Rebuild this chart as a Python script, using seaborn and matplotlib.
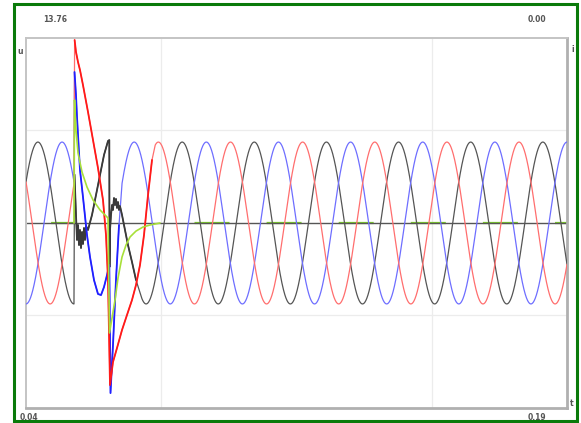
import numpy as np
import pandas as pd
import matplotlib
matplotlib.use("Agg")
import matplotlib.pyplot as plt
import seaborn as sns
from matplotlib.patches import Rectangle

# Axis range shown by the recorder
T_MIN, T_MAX = 0.04, 0.19
U_MAX = 13.76
I_LABEL = "0.00"

# Steady-state three-phase signal
FREQ = 50.0
AMPL = 6.02
PEAK_T = {"black": 0.0433, "blue": 0.0500, "red": 0.0567}
FAULT_T = 0.0533
REJOIN_T = {"black": 0.0716, "blue": 0.0666, "red": 0.0758}

# Transient part of each trace (time, value)
black_t = [0.05345, 0.05386, 0.05414, 0.05442, 0.05470, 0.05497, 0.05525, 0.05553,
           0.05580, 0.05608, 0.05636, 0.05664, 0.05719, 0.05830, 0.05941, 0.06052,
           0.06163, 0.06274, 0.06310, 0.06315, 0.06329, 0.06357, 0.06385, 0.06412,
           0.06440, 0.06468, 0.06495, 0.06523, 0.06551, 0.06579, 0.06606, 0.06662,
           0.06717, 0.06828, 0.06939, 0.07050]
black_v = [3.60, 0.60, -1.26, -0.15, -1.64, -0.52, -1.86, -0.67,
           -1.56, -0.37, -1.26, -0.22, -0.52, 0.60, 2.08, 3.57,
           5.06, 6.10, 6.17, -3.27, -0.52, 0.60, 1.34, 0.97,
           1.86, 1.34, 1.79, 1.12, 1.56, 0.97, 1.26, 0.60,
           -0.15, -1.64, -2.90, -4.24]

blue_t = [0.05345, 0.05386, 0.05414, 0.05497, 0.05580, 0.05691, 0.05775, 0.05885,
          0.05996, 0.06080, 0.06163, 0.06246, 0.06310, 0.06343, 0.06412, 0.06495,
          0.06579]
blue_v = [11.23, 9.52, 7.88, 3.94, 1.93, -0.89, -2.53, -4.24,
          -5.28, -5.36, -4.76, -3.87, -3.12, -12.65, -9.07, -4.24,
          -0.15]

red_t = [0.05348, 0.05386, 0.05442, 0.05497, 0.05580, 0.05719, 0.05858, 0.05996,
         0.06135, 0.06218, 0.06274, 0.06329, 0.06412, 0.06523, 0.06662, 0.06800,
         0.06939, 0.07050, 0.07161, 0.07272, 0.07383, 0.07494]
red_v = [13.61, 12.72, 11.97, 11.38, 10.26, 8.26, 6.17, 4.09,
         1.71, -0.89, -4.24, -12.05, -10.34, -9.30, -7.96, -6.84,
         -5.73, -4.61, -3.12, -0.89, 2.08, 4.69]

green_t = [0.05331, 0.05345, 0.05386, 0.05442, 0.05553, 0.05691, 0.05858, 0.06052,
           0.06274, 0.06315, 0.06385, 0.06468, 0.06551, 0.06662, 0.06773, 0.06884,
           0.07050, 0.07244, 0.07438, 0.07715]
green_v = [0.0, 9.15, 6.92, 5.21, 3.79, 2.68, 1.71, 0.97,
           0.37, -8.18, -7.07, -5.73, -4.09, -2.53, -1.64, -1.04,
           -0.60, -0.30, -0.15, 0.0]

COLORS = {"black": "#555555", "blue": "#6e6eff", "red": "#ff6e6e"}
STRONG = {"black": "#3a3a3a", "blue": "#2020ff", "red": "#ff1a1a"}
GREEN = "#7ccf2a"

W, H = 581, 423


def phase_frame(name, tt, vv):
    t = np.linspace(T_MIN, T_MAX, 2400)
    t = np.union1d(t, [FAULT_T, REJOIN_T[name]])
    keep = (t <= FAULT_T) | (t >= REJOIN_T[name])
    t = t[keep]
    v = AMPL * np.cos(2 * np.pi * FREQ * (t - PEAK_T[name]))
    df = pd.DataFrame({"t": np.concatenate([t, tt]), "v": np.concatenate([v, vv])})
    return df.sort_values("t", kind="stable").reset_index(drop=True)


sns.set_style("white")
fig = plt.figure(figsize=(W / 100, H / 100), dpi=100)
ax = fig.add_axes([26 / W, 1 - 408 / H, (567 - 26) / W, (408 - 38) / H])

# outer green frame
fig.patches.append(Rectangle((14 / W, 1 - 421 / H), 563 / W, 417 / H,
                             transform=fig.transFigure, fill=False,
                             edgecolor="#0a7a0a", linewidth=2.2))

ax.set_xlim(T_MIN, T_MAX)
ax.set_ylim(-U_MAX, U_MAX)
span = T_MAX - T_MIN
ax.set_xticks([T_MIN + span / 4, T_MIN + 3 * span / 4])
ax.set_yticks([-U_MAX / 2, U_MAX / 2])
ax.grid(True, color="#ececec", linewidth=0.9)
ax.tick_params(length=0, labelbottom=False, labelleft=False)
for side in ["top", "left"]:
    ax.spines[side].set_color("#c4c4c4")
    ax.spines[side].set_linewidth(1.4)
for side in ["right", "bottom"]:
    ax.spines[side].set_color("#b0b0b0")
    ax.spines[side].set_linewidth(2.0)

# green residual trace: dashed on zero outside the fault, solid during it
pre = pd.DataFrame({"t": [T_MIN, green_t[0]], "v": [0.0, 0.0]})
post = pd.DataFrame({"t": [green_t[-1], T_MAX], "v": [0.0, 0.0]})
tr = pd.DataFrame({"t": green_t, "v": green_v})
lw_g = 1.6
sns.lineplot(data=pre, x="t", y="v", color=GREEN, linewidth=lw_g, ax=ax,
             linestyle=(47 * 0.72 / lw_g, (35 * 0.72 / lw_g, 37.1 * 0.72 / lw_g)))
sns.lineplot(data=post, x="t", y="v", color=GREEN, linewidth=lw_g, ax=ax,
             linestyle=(37.6 * 0.72 / lw_g, (35 * 0.72 / lw_g, 37.1 * 0.72 / lw_g)))
ax.axhline(0, color="#555555", linewidth=1.0, zorder=2.5)

transients = {"black": (black_t, black_v), "blue": (blue_t, blue_v), "red": (red_t, red_v)}
for name in ["black", "blue", "red"]:
    tt, vv = transients[name]
    df = phase_frame(name, tt, vv)
    sns.lineplot(data=df, x="t", y="v", color=COLORS[name], linewidth=0.9,
                 sort=False, estimator=None, ax=ax, zorder=3)
for name in ["black", "blue", "red"]:
    tt, vv = transients[name]
    sns.lineplot(data=pd.DataFrame({"t": tt, "v": vv}), x="t", y="v",
                 color=STRONG[name], linewidth=1.3, sort=False, estimator=None,
                 ax=ax, zorder=4)
sns.lineplot(data=tr, x="t", y="v", color="#a8e03a", linewidth=1.2,
             sort=False, estimator=None, ax=ax, zorder=4)
ax.set_xlabel("")
ax.set_ylabel("")

# recorder labels
lab = dict(fontsize=5.5, color="#555555", fontweight="bold")
fig.text(55 / W, 1 - 20 / H, f"{U_MAX:.2f}", ha="center", va="center", **lab)
fig.text(537 / W, 1 - 20 / H, I_LABEL, ha="center", va="center", **lab)
fig.text(20 / W, 1 - 52 / H, "u", ha="center", va="center", **lab)
fig.text(573 / W, 1 - 50 / H, "i", ha="center", va="center", **lab)
fig.text(29 / W, 1 - 417 / H, f"{T_MIN:.2f}", ha="center", va="center", **lab)
fig.text(537 / W, 1 - 417 / H, f"{T_MAX:.2f}", ha="center", va="center", **lab)
fig.text(572 / W, 1 - 403 / H, "t", ha="center", va="center", **lab)

fig.savefig("out.png", dpi=100)
